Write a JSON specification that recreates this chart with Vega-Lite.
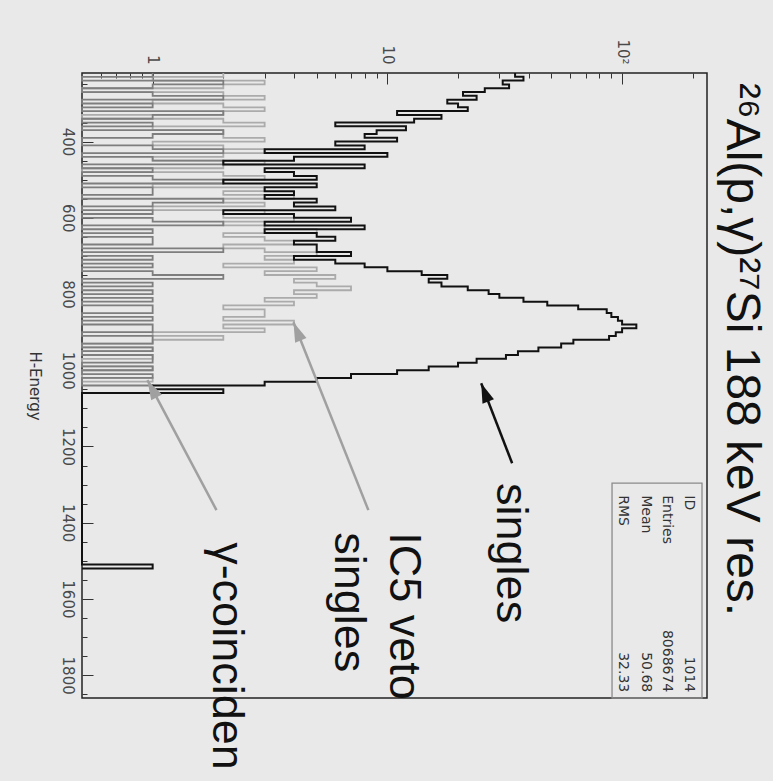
{
  "$schema": "https://vega.github.io/schema/vega-lite/v6.json",
  "width": 625,
  "height": 625,
  "autosize": "none",
  "padding": {"left": 82, "top": 73, "right": 66, "bottom": 83},
  "background": "#e9e9e9",
  "config": {"view": {"stroke": "#222222", "strokeWidth": 1.5}},
  "datasets": {
    "singles": [
      {"energy":220,"count":35},{"energy":230,"count":38},{"energy":240,"count":31},{"energy":250,"count":33},{"energy":260,"count":26},{"energy":270,"count":21},{"energy":280,"count":24},{"energy":290,"count":18},{"energy":300,"count":20},{"energy":310,"count":22},{"energy":320,"count":11},{"energy":330,"count":17},{"energy":340,"count":13},{"energy":350,"count":6},{"energy":360,"count":12},{"energy":370,"count":9},{"energy":380,"count":8},{"energy":390,"count":11},{"energy":400,"count":6},{"energy":410,"count":8},{"energy":420,"count":3},{"energy":430,"count":10},{"energy":440,"count":4},{"energy":450,"count":2},{"energy":460,"count":8},{"energy":470,"count":3},{"energy":480,"count":4},{"energy":490,"count":5},{"energy":500,"count":2},{"energy":510,"count":5},{"energy":520,"count":3},{"energy":530,"count":4},{"energy":540,"count":3},{"energy":550,"count":5},{"energy":560,"count":4},{"energy":570,"count":6},{"energy":580,"count":2},{"energy":590,"count":4},{"energy":600,"count":7},{"energy":610,"count":3},{"energy":620,"count":8},{"energy":630,"count":3},{"energy":640,"count":5},{"energy":650,"count":6},{"energy":660,"count":4},{"energy":670,"count":5},{"energy":680,"count":5},{"energy":690,"count":7},{"energy":700,"count":4},{"energy":710,"count":6},{"energy":720,"count":8},{"energy":730,"count":10},{"energy":740,"count":14},{"energy":750,"count":18},{"energy":760,"count":15},{"energy":770,"count":17},{"energy":780,"count":22},{"energy":790,"count":27},{"energy":800,"count":30},{"energy":810,"count":38},{"energy":820,"count":48},{"energy":830,"count":65},{"energy":840,"count":86},{"energy":850,"count":90},{"energy":860,"count":96},{"energy":870,"count":100},{"energy":880,"count":115},{"energy":890,"count":100},{"energy":900,"count":94},{"energy":910,"count":88},{"energy":920,"count":62},{"energy":930,"count":55},{"energy":940,"count":44},{"energy":950,"count":36},{"energy":960,"count":32},{"energy":970,"count":24},{"energy":980,"count":20},{"energy":990,"count":15},{"energy":1000,"count":11},{"energy":1010,"count":7},{"energy":1020,"count":5},{"energy":1030,"count":3},{"energy":1040,"count":1},{"energy":1050,"count":2},{"energy":1060,"count":0},{"energy":1500,"count":0},{"energy":1510,"count":1},{"energy":1520,"count":0}
    ],
    "veto": [
      {"energy":220,"count":2},{"energy":230,"count":1},{"energy":240,"count":3},{"energy":250,"count":2},{"energy":260,"count":0},{"energy":270,"count":2},{"energy":280,"count":3},{"energy":290,"count":1},{"energy":300,"count":2},{"energy":310,"count":3},{"energy":320,"count":2},{"energy":330,"count":0},{"energy":340,"count":2},{"energy":350,"count":3},{"energy":360,"count":1},{"energy":370,"count":2},{"energy":380,"count":2},{"energy":390,"count":3},{"energy":400,"count":1},{"energy":410,"count":2},{"energy":420,"count":3},{"energy":430,"count":2},{"energy":440,"count":1},{"energy":450,"count":3},{"energy":460,"count":2},{"energy":470,"count":0},{"energy":480,"count":2},{"energy":490,"count":3},{"energy":500,"count":2},{"energy":510,"count":1},{"energy":520,"count":3},{"energy":530,"count":2},{"energy":540,"count":4},{"energy":550,"count":2},{"energy":560,"count":3},{"energy":570,"count":1},{"energy":580,"count":3},{"energy":590,"count":2},{"energy":600,"count":4},{"energy":610,"count":2},{"energy":620,"count":3},{"energy":630,"count":5},{"energy":640,"count":2},{"energy":650,"count":3},{"energy":660,"count":4},{"energy":670,"count":2},{"energy":680,"count":3},{"energy":690,"count":5},{"energy":700,"count":3},{"energy":710,"count":4},{"energy":720,"count":2},{"energy":730,"count":5},{"energy":740,"count":3},{"energy":750,"count":6},{"energy":760,"count":4},{"energy":770,"count":5},{"energy":780,"count":7},{"energy":790,"count":4},{"energy":800,"count":5},{"energy":810,"count":3},{"energy":820,"count":4},{"energy":830,"count":2},{"energy":840,"count":3},{"energy":850,"count":3},{"energy":860,"count":2},{"energy":870,"count":4},{"energy":880,"count":2},{"energy":890,"count":3},{"energy":900,"count":1},{"energy":910,"count":2},{"energy":920,"count":1},{"energy":930,"count":0},{"energy":940,"count":1},{"energy":950,"count":0},{"energy":960,"count":1},{"energy":970,"count":0},{"energy":980,"count":0},{"energy":990,"count":1},{"energy":1000,"count":0},{"energy":1010,"count":0},{"energy":1020,"count":1},{"energy":1030,"count":0}
    ],
    "gamma": [
      {"energy":220,"count":1},{"energy":230,"count":0},{"energy":240,"count":2},{"energy":250,"count":1},{"energy":260,"count":0},{"energy":270,"count":1},{"energy":280,"count":2},{"energy":290,"count":0},{"energy":300,"count":1},{"energy":310,"count":0},{"energy":320,"count":2},{"energy":330,"count":1},{"energy":340,"count":0},{"energy":350,"count":1},{"energy":360,"count":0},{"energy":370,"count":2},{"energy":380,"count":1},{"energy":390,"count":0},{"energy":400,"count":0},{"energy":410,"count":1},{"energy":420,"count":2},{"energy":430,"count":0},{"energy":440,"count":1},{"energy":450,"count":2},{"energy":460,"count":0},{"energy":470,"count":1},{"energy":480,"count":0},{"energy":490,"count":1},{"energy":500,"count":2},{"energy":510,"count":0},{"energy":520,"count":1},{"energy":530,"count":1},{"energy":540,"count":0},{"energy":550,"count":2},{"energy":560,"count":1},{"energy":570,"count":0},{"energy":580,"count":1},{"energy":590,"count":0},{"energy":600,"count":1},{"energy":610,"count":2},{"energy":620,"count":0},{"energy":630,"count":1},{"energy":640,"count":0},{"energy":650,"count":1},{"energy":660,"count":1},{"energy":670,"count":0},{"energy":680,"count":2},{"energy":690,"count":0},{"energy":700,"count":1},{"energy":710,"count":0},{"energy":720,"count":1},{"energy":730,"count":0},{"energy":740,"count":1},{"energy":750,"count":2},{"energy":760,"count":0},{"energy":770,"count":1},{"energy":780,"count":0},{"energy":790,"count":1},{"energy":800,"count":0},{"energy":810,"count":1},{"energy":820,"count":0},{"energy":830,"count":1},{"energy":840,"count":1},{"energy":850,"count":0},{"energy":860,"count":1},{"energy":870,"count":0},{"energy":880,"count":1},{"energy":890,"count":1},{"energy":900,"count":0},{"energy":910,"count":1},{"energy":920,"count":1},{"energy":930,"count":0},{"energy":940,"count":1},{"energy":950,"count":0},{"energy":960,"count":1},{"energy":970,"count":1},{"energy":980,"count":0},{"energy":990,"count":1},{"energy":1000,"count":0},{"energy":1010,"count":1},{"energy":1020,"count":0},{"energy":1030,"count":0},{"energy":1040,"count":1},{"energy":1050,"count":1},{"energy":1060,"count":0}
    ],
    "stats": [
      {"name":"ID","value":"1014","count":185},
      {"name":"Entries","value":"8068674","count":149},
      {"name":"Mean","value":"50.68","count":122},
      {"name":"RMS","value":"32.33","count":97}
    ],
    "notes": [
      {"label":"singles","count":29.4,"energy":1296},
      {"label":"IC5 veto","count":10.3,"energy":1425},
      {"label":"singles","count":6.0,"energy":1425},
      {"label":"γ-coinciden","count":1.8,"energy":1451}
    ],
    "heading": [
      {"label":"²⁶Al(p,γ)²⁷Si 188 keV res.","count":280,"energy":246}
    ],
    "arrows": [
      {"kind":"singles","count":34.0,"energy":1244,"count2":25.1,"energy2":1034},
      {"kind":"veto","count":8.3,"energy":1367,"count2":3.98,"energy2":874},
      {"kind":"gamma","count":1.87,"energy":1367,"count2":0.95,"energy2":1026}
    ]
  },
  "resolve": {"scale": {"x": "independent"}, "axis": {"y": "independent"}},
  "layer": [
    {
      "layer": [
        {
          "data": {"name": "veto"},
          "mark": {"type": "line", "interpolate": "step-before", "color": "#ababab", "strokeWidth": 1.8},
          "encoding": {
            "x": {"field": "count", "type": "quantitative",
              "scale": {"type": "log", "domain": [0.5, 230], "clamp": true, "nice": false},
              "axis": {"orient": "top", "title": null, "domain": false, "grid": false,
                "values": [0.6,0.7,0.8,0.9,1,2,3,4,5,6,7,8,9,10,20,30,40,50,60,70,80,90,100,200],
                "labelExpr": "datum.value == 1 ? '1' : datum.value == 10 ? '10' : datum.value == 100 ? '10²' : ''",
                "labelAngle": 90, "labelAlign": "right", "labelBaseline": "middle", "labelPadding": 20,
                "labelFont": "DejaVu Sans", "labelFontSize": 15, "labelColor": "#4a4a4a",
                "labelOverlap": false, "labelFlush": false,
                "tickColor": "#333333", "tickWidth": 1,
                "tickSize": {"condition": {"test": "datum.value == 1 || datum.value == 10 || datum.value == 100", "value": -11}, "value": -5}}},
            "y": {"field": "energy", "type": "quantitative",
              "scale": {"domain": [220, 1860], "reverse": true, "nice": false, "zero": false},
              "axis": {"orient": "left", "title": "H-Energy", "domain": false, "grid": false,
                "values": [400,600,800,1000,1200,1400,1600,1800],
                "format": "d",
                "labelAngle": 90, "labelAlign": "center", "labelBaseline": "middle", "labelPadding": 26,
                "labelFont": "DejaVu Sans", "labelFontSize": 15, "labelColor": "#4a4a4a",
                "labelOverlap": false, "labelFlush": false,
                "tickColor": "#333333", "tickWidth": 1, "tickSize": -11,
                "titleAngle": 90, "titleBaseline": "top", "titlePadding": 18,
                "titleFont": "DejaVu Sans", "titleFontSize": 15, "titleFontWeight": "normal", "titleColor": "#333333"}},
            "order": {"field": "energy", "type": "quantitative"}
          }
        },
        {
          "data": {"name": "gamma"},
          "mark": {"type": "line", "interpolate": "step-before", "color": "#7e7e7e", "strokeWidth": 1.8},
          "encoding": {
            "x": {"field": "count", "type": "quantitative"},
            "y": {"field": "energy", "type": "quantitative"},
            "order": {"field": "energy", "type": "quantitative"}
          }
        },
        {
          "data": {"name": "singles"},
          "mark": {"type": "line", "interpolate": "step-before", "color": "#111111", "strokeWidth": 2},
          "encoding": {
            "x": {"field": "count", "type": "quantitative"},
            "y": {"field": "energy", "type": "quantitative"},
            "order": {"field": "energy", "type": "quantitative"}
          }
        },
        {
          "data": {"values": [{}]},
          "mark": {"type": "rect", "fill": null, "filled": false, "stroke": "#8a8a8a", "strokeWidth": 1.3},
          "encoding": {
            "x": {"datum": 90.6, "type": "quantitative"},
            "x2": {"datum": 219},
            "y": {"datum": 1296, "type": "quantitative"},
            "y2": {"datum": 1860}
          }
        },
        {
          "data": {"name": "stats"},
          "mark": {"type": "text", "angle": 90, "align": "left", "baseline": "alphabetic", "font": "DejaVu Sans", "fontSize": 14, "color": "#333333"},
          "encoding": {
            "x": {"field": "count", "type": "quantitative"},
            "y": {"datum": 1328, "type": "quantitative"},
            "text": {"field": "name"}
          }
        },
        {
          "data": {"name": "stats"},
          "mark": {"type": "text", "angle": 90, "align": "right", "baseline": "alphabetic", "font": "DejaVu Sans", "fontSize": 14, "color": "#333333"},
          "encoding": {
            "x": {"field": "count", "type": "quantitative"},
            "y": {"datum": 1845, "type": "quantitative"},
            "text": {"field": "value"}
          }
        },
        {
          "data": {"name": "arrows"},
          "mark": {"type": "rule", "strokeWidth": 2.5},
          "encoding": {
            "x": {"field": "count", "type": "quantitative"},
            "y": {"field": "energy", "type": "quantitative"},
            "x2": {"field": "count2"},
            "y2": {"field": "energy2"},
            "color": {"field": "kind", "type": "nominal", "scale": {"domain": ["singles", "veto", "gamma"], "range": ["#111111", "#a0a0a0", "#a0a0a0"]}, "legend": null}
          }
        },
        {
          "data": {"name": "arrows"},
          "transform": [{"filter": "datum.kind == 'singles'"}],
          "mark": {"type": "point", "shape": "M0,0L0.5,1.6L-0.5,1.6Z", "size": 600, "filled": true, "opacity": 1, "angle": 339, "color": "#111111"},
          "encoding": {
            "x": {"field": "count2", "type": "quantitative"},
            "y": {"field": "energy2", "type": "quantitative"}
          }
        },
        {
          "data": {"name": "arrows"},
          "transform": [{"filter": "datum.kind == 'veto'"}],
          "mark": {"type": "point", "shape": "M0,0L0.5,1.6L-0.5,1.6Z", "size": 600, "filled": true, "opacity": 1, "angle": 338, "color": "#a0a0a0"},
          "encoding": {
            "x": {"field": "count2", "type": "quantitative"},
            "y": {"field": "energy2", "type": "quantitative"}
          }
        },
        {
          "data": {"name": "arrows"},
          "transform": [{"filter": "datum.kind == 'gamma'"}],
          "mark": {"type": "point", "shape": "M0,0L0.5,1.6L-0.5,1.6Z", "size": 600, "filled": true, "opacity": 1, "angle": 332, "color": "#a0a0a0"},
          "encoding": {
            "x": {"field": "count2", "type": "quantitative"},
            "y": {"field": "energy2", "type": "quantitative"}
          }
        },
        {
          "data": {"name": "notes"},
          "mark": {"type": "text", "angle": 90, "align": "left", "baseline": "alphabetic", "font": "Liberation Sans", "fontSize": 45, "color": "#111111"},
          "encoding": {
            "x": {"field": "count", "type": "quantitative"},
            "y": {"field": "energy", "type": "quantitative"},
            "text": {"field": "label"}
          }
        }
      ]
    },
    {
      "data": {"name": "heading"},
      "mark": {"type": "text", "angle": 90, "align": "left", "baseline": "alphabetic", "font": "Liberation Sans", "fontSize": 48, "color": "#111111"},
      "encoding": {
        "x": {"field": "count", "type": "quantitative", "scale": {"type": "log", "domain": [0.5, 230], "nice": false}, "axis": null},
        "y": {"field": "energy", "type": "quantitative",
          "axis": {"orient": "left", "title": null, "labels": false, "domain": false, "grid": false,
            "values": [250,300,350,450,500,550,650,700,750,850,900,950,1050,1100,1150,1250,1300,1350,1450,1500,1550,1650,1700,1750,1850],
            "tickSize": -5, "tickColor": "#333333", "tickWidth": 1, "offset": 0}},
        "text": {"field": "label"}
      }
    }
  ]
}
